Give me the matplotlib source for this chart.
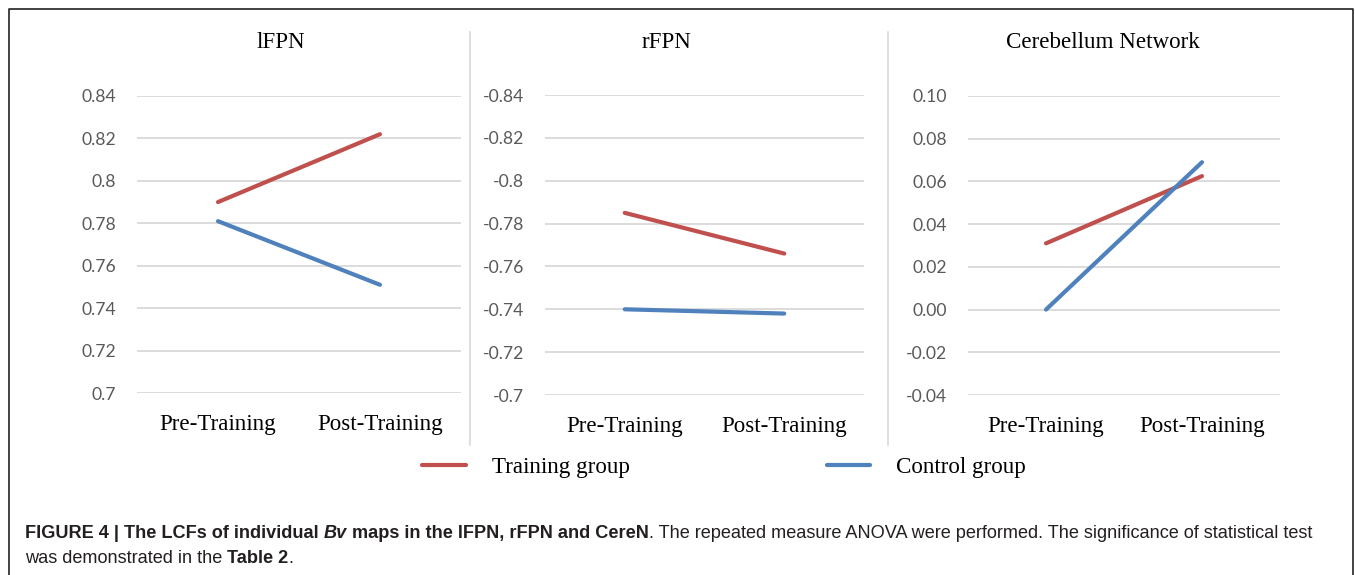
import matplotlib
matplotlib.use("Agg")
import matplotlib.pyplot as plt
from matplotlib.lines import Line2D

# data
phases = ["Pre-Training", "Post-Training"]
panel_titles = ["lFPN", "rFPN", "Cerebellum Network"]
training = [[0.790, 0.822], [-0.785, -0.766], [0.031, 0.0625]]
control = [[0.781, 0.751], [-0.740, -0.738], [0.000, 0.069]]
yticks = [[0.70, 0.72, 0.74, 0.76, 0.78, 0.80, 0.82, 0.84],
          [-0.84, -0.82, -0.80, -0.78, -0.76, -0.74, -0.72, -0.70],
          [-0.04, -0.02, 0.00, 0.02, 0.04, 0.06, 0.08, 0.10]]
ytick_labels = [["0.7", "0.72", "0.74", "0.76", "0.78", "0.8", "0.82", "0.84"],
                ["-0.84", "-0.82", "-0.8", "-0.78", "-0.76", "-0.74", "-0.72", "-0.7"],
                ["-0.04", "-0.02", "0.00", "0.02", "0.04", "0.06", "0.08", "0.10"]]
legend_names = ["Training group", "Control group"]

RED = "#C0504D"
BLUE = "#4F81BD"
GRID = "#D9D9D9"
W, H = 1355, 575

fig = plt.figure(figsize=(W / 100, H / 100), dpi=100)

# axes boxes in pixels: left, top, right, bottom
boxes = [(137, 96, 461, 393), (545, 95, 864, 395), (968, 96, 1280, 395)]
title_x = [281, 667, 1103]
serif = "Liberation Serif"
SZ = 16.6

handles = None
for i in range(3):
    l, t, r, b = boxes[i]
    ax = fig.add_axes([l / W, 1 - b / H, (r - l) / W, (b - t) / H])
    x = list(range(len(phases)))
    h1, = ax.plot(x, training[i], color=RED, lw=3.0, solid_capstyle="round")
    h2, = ax.plot(x, control[i], color=BLUE, lw=3.0, solid_capstyle="round")
    handles = [h1, h2]
    ax.set_xlim(-0.5, 1.5)
    lo, hi = min(yticks[i]), max(yticks[i])
    if i == 1:
        ax.set_ylim(hi, lo)
    else:
        ax.set_ylim(lo, hi)
    ax.set_yticks(yticks[i])
    ax.set_yticklabels(ytick_labels[i], fontfamily="Lato", fontsize=12.6, color="#595959")
    ax.set_xticks(x)
    ax.set_xticklabels(phases, fontfamily=serif, fontsize=SZ, color="black")
    ax.tick_params(axis="y", length=0, pad=15)
    ax.tick_params(axis="x", length=0, pad=15)
    ax.grid(axis="y", color=GRID, lw=1.3)
    ax.set_axisbelow(True)
    for s in ax.spines.values():
        s.set_visible(False)
    fig.text(title_x[i] / W, 1 - 43 / H, panel_titles[i], fontfamily=serif,
             fontsize=SZ, ha="center", va="center")

# panel separators
for sx in [470, 888]:
    fig.add_artist(Line2D([sx / W, sx / W], [1 - 32 / H, 1 - 445 / H],
                          color="#D9D9D9", lw=1.2, transform=fig.transFigure))

# outer frame (open at the bottom)
frame_x = [9 / W, 9 / W, 1353 / W, 1353 / W]
frame_y = [0, 1 - 9 / H, 1 - 9 / H, 0]
fig.add_artist(Line2D(frame_x, frame_y, color="#222222", lw=1.2,
                      transform=fig.transFigure))

fig.legend(handles, legend_names, loc="center", ncol=2,
           bbox_to_anchor=(724 / W, 1 - 467 / H), frameon=False,
           prop={"family": serif, "size": SZ}, handlelength=1.9,
           handletextpad=1.1, columnspacing=8.55, borderpad=0)

# caption with mixed weights
fig.canvas.draw()
renderer = fig.canvas.get_renderer()
cap_font = "Liberation Sans"
cap_size = 13.1
lines = [
    [("FIGURE 4 | The LCFs of individual ", "bold", "normal"),
     ("Bv", "bold", "italic"),
     (" maps in the lFPN, rFPN and CereN", "bold", "normal"),
     (". The repeated measure ANOVA were performed. The significance of statistical test",
      "normal", "normal")],
    [("was demonstrated in the ", "normal", "normal"),
     ("Table 2", "bold", "normal"),
     (".", "normal", "normal")],
]
baselines = [538, 563]
for pieces, yb in zip(lines, baselines):
    xpos = 25
    for txt, wt, st in pieces:
        tt = fig.text(xpos / W, 1 - yb / H, txt, fontfamily=cap_font,
                      fontsize=cap_size, fontweight=wt, fontstyle=st,
                      color="#231F20", ha="left", va="baseline")
        bb = tt.get_window_extent(renderer)
        xpos += bb.width

fig.savefig("out.png", dpi=100)
